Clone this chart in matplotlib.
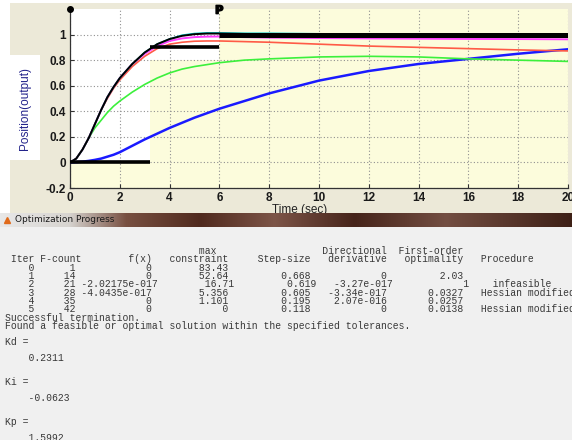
import matplotlib
matplotlib.use("Agg")
import matplotlib.pyplot as plt
import numpy as np
from matplotlib.patches import Rectangle

W, H, DPI = 572, 440, 100

# ---- step responses ----
time_s = [0, 0.25, 0.5, 0.75, 1, 1.25, 1.5, 1.75, 2, 2.5, 3, 3.5, 4, 4.5,
          5, 5.5, 6, 7, 8, 10, 12, 14, 16, 18, 20]
resp_blue = [0, 0.002, 0.006, 0.012, 0.02, 0.03, 0.045, 0.06, 0.08, 0.13, 0.18,
             0.225, 0.27, 0.31, 0.35, 0.385, 0.42, 0.48, 0.54, 0.64, 0.715,
             0.77, 0.81, 0.85, 0.885]
resp_green = [0, 0.03, 0.10, 0.19, 0.27, 0.33, 0.39, 0.44, 0.48, 0.55, 0.61,
              0.66, 0.70, 0.73, 0.75, 0.765, 0.78, 0.80, 0.81, 0.825, 0.83,
              0.825, 0.81, 0.80, 0.79]
resp_red = [0, 0.03, 0.10, 0.19, 0.30, 0.41, 0.50, 0.58, 0.645, 0.75, 0.83,
            0.89, 0.925, 0.94, 0.948, 0.95, 0.95, 0.945, 0.94, 0.925, 0.91,
            0.90, 0.89, 0.88, 0.872]
resp_magenta = [0, 0.03, 0.10, 0.19, 0.30, 0.41, 0.51, 0.59, 0.66, 0.77, 0.85,
                0.91, 0.95, 0.97, 0.98, 0.984, 0.985, 0.98, 0.976, 0.973, 0.97,
                0.968, 0.966, 0.965, 0.963]
resp_cyan = [0, 0.03, 0.10, 0.19, 0.30, 0.41, 0.51, 0.59, 0.66, 0.77, 0.86,
             0.925, 0.965, 0.995, 1.008, 1.013, 1.013, 1.01, 1.01, 1.006, 1.003,
             1.0, 1.0, 1.0, 1.0]
resp_black = [0, 0.03, 0.10, 0.19, 0.30, 0.41, 0.51, 0.59, 0.66, 0.77, 0.86,
              0.925, 0.965, 0.99, 1.003, 1.008, 1.008, 1.005, 1.003, 1.0, 1.0,
              1.0, 1.0, 1.0, 1.0]

# signal constraint bounds (t_start, t_end, level)
lower_bounds = [(0, 3.2, 0.0), (3.2, 6, 0.9)]
upper_bounds = [(6, 20, 1.0)]
# unconstrained (white) regions (t_start, t_end, y_low, y_high)
free_regions = [(0, 3.2, 0.0, 1.2), (3.2, 6, 0.8, 1.2)]

x_ticks = [0, 2, 4, 6, 8, 10, 12, 14, 16, 18, 20]
y_ticks = [-0.2, 0, 0.2, 0.4, 0.6, 0.8, 1]
y_tick_labels = ["-0.2", "0", "0.2", "0.4", "0.6", "0.8", "1"]

# ---- optimisation log ----
iters = [0, 1, 2, 3, 4, 5]
fcount = [1, 14, 21, 28, 35, 42]
fx = ["0", "0", "-2.02175e-017", "-4.0435e-017", "0", "0"]
max_constraint = ["83.43", "52.64", "16.71", "5.356", "1.101", "0"]
step_size = ["", "0.668", "0.619", "0.605", "0.195", "0.118"]
dir_deriv = ["", "0", "-3.27e-017", "-3.34e-017", "2.07e-016", "0"]
first_order = ["", "2.03", "1", "0.0327", "0.0257", "0.0138"]
procedure = ["", "", " infeasible", "Hessian modified", "", "Hessian modified"]
gains = [("Kd", "0.2311"), ("Ki", "-0.0623"), ("Kp", "1.5992")]


def fxp(x):
    return x / W


def fyp(y):
    return 1 - y / H


fig = plt.figure(figsize=(W / DPI, H / DPI), dpi=DPI, facecolor="white")

# grey MATLAB figure background
fig.patches.append(Rectangle((fxp(10), fyp(214)), fxp(562), 211 / H,
                             transform=fig.transFigure, facecolor="#ece9d8",
                             edgecolor="none", zorder=-2))
# white box behind the y label
fig.patches.append(Rectangle((fxp(10), fyp(160)), fxp(30), 105 / H,
                             transform=fig.transFigure, facecolor="white",
                             edgecolor="none", zorder=-1))

ax = fig.add_axes([fxp(70), fyp(188), 498 / W, 179 / H])
ax.set_facecolor("#fcfcdc")
for t0, t1, y0, y1 in free_regions:
    ax.fill_between([t0, t1], y0, y1, color="white", linewidth=0, zorder=0.8)

ax.plot(time_s, resp_blue, color="#1a1aff", lw=1.8, zorder=3)
ax.plot(time_s, resp_green, color="#3cf03c", lw=1.2, zorder=3)
ax.plot(time_s, resp_red, color="#ff5a46", lw=1.2, zorder=3)
ax.plot(time_s, resp_magenta, color="#ff3cff", lw=1.4, zorder=3)
ax.plot(time_s, resp_cyan, color="#00c8c8", lw=1.2, zorder=3)
ax.plot(time_s, resp_black, color="black", lw=1.4, zorder=4)
for t0, t1, lev in lower_bounds:
    ax.plot([t0, t1], [lev, lev], color="black", lw=2.6, solid_capstyle="butt", zorder=5)
for t0, t1, lev in upper_bounds:
    ax.plot([t0, t1], [lev, lev], color="black", lw=3.6, solid_capstyle="butt", zorder=5)

ax.plot([0], [1.2], "o", color="black", ms=4, clip_on=False, zorder=6)
ax.plot([6], [1.2], marker=r"$\mathbf{P}$", color="black", ms=6, clip_on=False, zorder=6)

ax.set_xlim(0, 20)
ax.set_ylim(-0.2, 1.2)
ax.set_xticks(x_ticks)
ax.set_yticks(y_ticks, y_tick_labels)
ax.grid(True, linestyle=(0, (1, 2)), color="#909090", linewidth=0.8)
ax.tick_params(direction="in", length=3, width=0.8, color="#333333",
               labelsize=8.5, labelcolor="#1a1a1a", pad=3)
for lab in ax.get_xticklabels() + ax.get_yticklabels():
    lab.set_fontweight("bold")
    lab.set_family("Liberation Sans")
for side in ("top", "right"):
    ax.spines[side].set_visible(False)
for side in ("left", "bottom"):
    ax.spines[side].set_color("#333333")
    ax.spines[side].set_linewidth(0.9)

fig.text(fxp(25), fyp(108), "Position(output)", rotation=90, ha="center",
         va="center", fontsize=8.5, color="#22228a", family="Liberation Sans")
fig.text(fxp(300), fyp(210), "Time (sec)", ha="center", va="center",
         fontsize=8.5, color="#222222", family="Liberation Sans")

# ---- Optimization Progress window ----
body = fig.add_axes([0, 0, 1, fyp(227)], zorder=10)
body.set_facecolor("#f0f0f0")
body.set_xlim(0, W)
body.set_ylim(H, 227)
body.set_xticks([])
body.set_yticks([])
for s in body.spines.values():
    s.set_visible(False)

bar = fig.add_axes([0, fyp(227), 1, 14 / H], zorder=11)
stops = [0.0, 0.12, 0.22, 0.35, 0.48, 0.62, 0.78, 1.0]
cols = np.array([[232, 232, 232], [215, 212, 208], [120, 80, 65], [80, 42, 30],
                 [125, 85, 72], [70, 36, 26], [115, 78, 66], [62, 32, 22]]) / 255
xs = np.linspace(0, 1, W)
grad = np.stack([np.interp(xs, stops, cols[:, k]) for k in range(3)], axis=-1)
bar.imshow(grad[None, :, :], aspect="auto", extent=(0, W, 0, 1))
bar.set_xlim(0, W)
bar.set_ylim(0, 1)
bar.axis("off")
bar.plot([7], [0.5], marker="^", color="#e06a1a", ms=5)
bar.text(15, 0.5, "Optimization Progress", va="center", ha="left",
         fontsize=6.5, color="#1a1a1a", family="DejaVu Sans")

mono = dict(family="Liberation Mono", fontsize=7.0, color="#383838", ha="left")
X0, LH = 5, 8.0

head1 = " " * 33 + "max" + " " * 18 + "Directional" + "  " + "First-order"
head2 = ("Iter".rjust(5) + "F-count".rjust(8) + "f(x)".rjust(12)
         + "constraint".rjust(13) + "Step-size".rjust(14)
         + "derivative".rjust(13) + "optimality".rjust(13) + "   Procedure")
lines = [head1, head2]
for i in range(len(iters)):
    row = (str(iters[i]).rjust(5) + "  " + str(fcount[i]).rjust(5)
           + " " + fx[i].rjust(12) + " " + max_constraint[i].rjust(12))
    if step_size[i]:
        row += (" " + step_size[i].rjust(13) + " " + dir_deriv[i].rjust(12)
                + " " + first_order[i].rjust(12) + "   " + procedure[i])
    lines.append(row)
lines.append("Successful termination.")
lines.append("Found a feasible or optimal solution within the specified tolerances.")
body.text(X0, 246, "\n".join(lines), va="top", linespacing=0.79, **mono)

y = 342
for name, val in gains:
    body.text(X0, y, name + " =", va="center", **mono)
    body.text(X0, y + 2 * LH, "    " + val, va="center", **mono)
    y += 5 * LH

fig.savefig("out.png", dpi=DPI, facecolor="white")
